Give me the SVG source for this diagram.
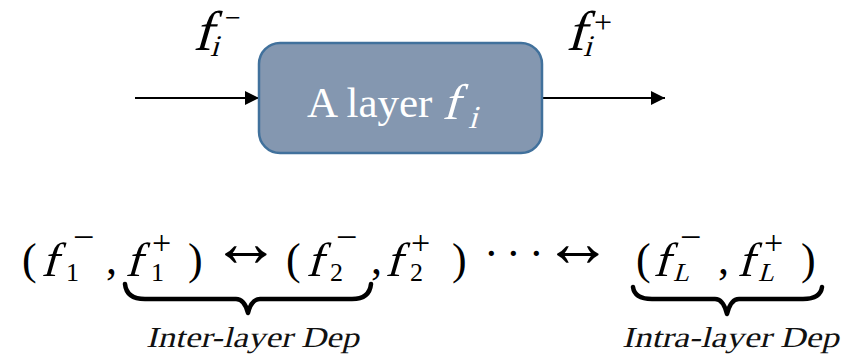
<svg xmlns="http://www.w3.org/2000/svg" width="851" height="360" viewBox="0 0 851 360">
<style>
.s{font-family:"Liberation Serif","Times New Roman",serif;fill:#000}
.m{font-size:44px}
.mf{font-size:48px}
.sub{font-size:26px}
.mn{font-size:38px}
.pl{font-size:34px}
.arr{font-family:"Liberation Serif","Times New Roman",serif;font-size:70px;fill:#000}
.lbl{font-family:"Liberation Serif","Times New Roman",serif;font-size:29px;fill:#111}
.brace{fill:none;stroke:#000;stroke-width:4.5;stroke-linecap:round;stroke-linejoin:round}
.conn{stroke:#000;stroke-width:2.2;fill:none}
.w{font-family:"Liberation Serif","Times New Roman",serif;fill:#fff}
</style>
<defs>
<marker id="ah" markerUnits="userSpaceOnUse" markerWidth="14" markerHeight="14" refX="14" refY="7" orient="auto">
<path d="M0,0 L14,7 L0,14 Z" fill="#000"/>
</marker>
</defs>
<rect width="851" height="360" fill="#fff"/>
<g id="connectors">
<line class="conn" x1="135" y1="98" x2="259" y2="98" marker-end="url(#ah)"/>
<line class="conn" x1="542" y1="98" x2="665" y2="98" marker-end="url(#ah)"/>
</g>
<g id="layer">
<rect x="259" y="43" width="283" height="110" rx="21" ry="21" fill="#8497B0" stroke="#41719C" stroke-width="2.5"/>
<text class="w" x="307" y="117" font-size="43">A layer</text>
<text class="w" transform="translate(442,119) skewX(-16)" font-size="50">f</text>
<text class="w" transform="translate(468,128) skewX(-16)" font-size="32">i</text>
</g>
<g id="input-label">
<text class="s" transform="translate(193,50) skewX(-16)" font-size="56">f</text>
<text class="s" transform="translate(210,56) skewX(-16)" font-size="30">i</text>
<text class="s" x="225" y="27" font-size="28">−</text>
</g>
<g id="output-label">
<text class="s" transform="translate(566,50) skewX(-16)" font-size="56">f</text>
<text class="s" transform="translate(583,56) skewX(-16)" font-size="30">i</text>
<text class="s" x="594" y="33" font-size="32">+</text>
</g>
<g id="formula">
<text class="s m" x="22" y="274">(</text>
<text class="s mf" transform="translate(41,276) skewX(-16)">f</text>
<text class="s sub" x="66" y="281">1</text>
<text class="s mn" x="73" y="250">−</text>
<text class="s m" x="106" y="274">,</text>
<text class="s mf" transform="translate(125,276) skewX(-16)">f</text>
<text class="s sub" x="151" y="281">1</text>
<text class="s pl" x="152" y="254">+</text>
<text class="s m" x="188" y="274">)</text>
<text class="arr" x="211" y="266">↔</text>
<text class="s m" x="286" y="274">(</text>
<text class="s mf" transform="translate(306,276) skewX(-16)">f</text>
<text class="s sub" x="330" y="281">2</text>
<text class="s mn" x="336" y="250">−</text>
<text class="s m" x="371" y="274">,</text>
<text class="s mf" transform="translate(385,276) skewX(-16)">f</text>
<text class="s sub" x="410" y="281">2</text>
<text class="s pl" x="411" y="254">+</text>
<text class="s m" x="452" y="274">)</text>
<text class="s m" y="268"><tspan x="484">·</tspan><tspan x="506">·</tspan><tspan x="529">·</tspan></text>
<text class="arr" x="543" y="266">↔</text>
<text class="s m" x="636" y="274">(</text>
<text class="s mf" transform="translate(653,276) skewX(-16)">f</text>
<text class="s sub" transform="translate(673,281) skewX(-16)">L</text>
<text class="s mn" x="680" y="250">−</text>
<text class="s m" x="718" y="274">,</text>
<text class="s mf" transform="translate(737,276) skewX(-16)">f</text>
<text class="s sub" transform="translate(758,281) skewX(-16)">L</text>
<text class="s pl" x="764" y="254">+</text>
<text class="s m" x="801" y="274">)</text>
</g>
<g id="braces">
<path class="brace" d="M125,284 C126,294 133,299 145,299 L236,299 C243,299 246,305 248,313 C250,305 253,299 260,299 L352,299 C364,299 370,294 371,284"/>
<path class="brace" d="M633,287 C634,295 640,299 652,299 L715,299 C722,299 725,306 727,314 C729,306 732,299 739,299 L803,299 C815,299 821,295 822,287"/>
</g>
<g id="inter-label">
<text class="lbl" transform="translate(146,347) skewX(-14)" textLength="213" lengthAdjust="spacingAndGlyphs">Inter-layer Dep</text>
</g>
<g id="intra-label">
<text class="lbl" transform="translate(622,347) skewX(-14)" textLength="217" lengthAdjust="spacingAndGlyphs">Intra-layer Dep</text>
</g>
</svg>
